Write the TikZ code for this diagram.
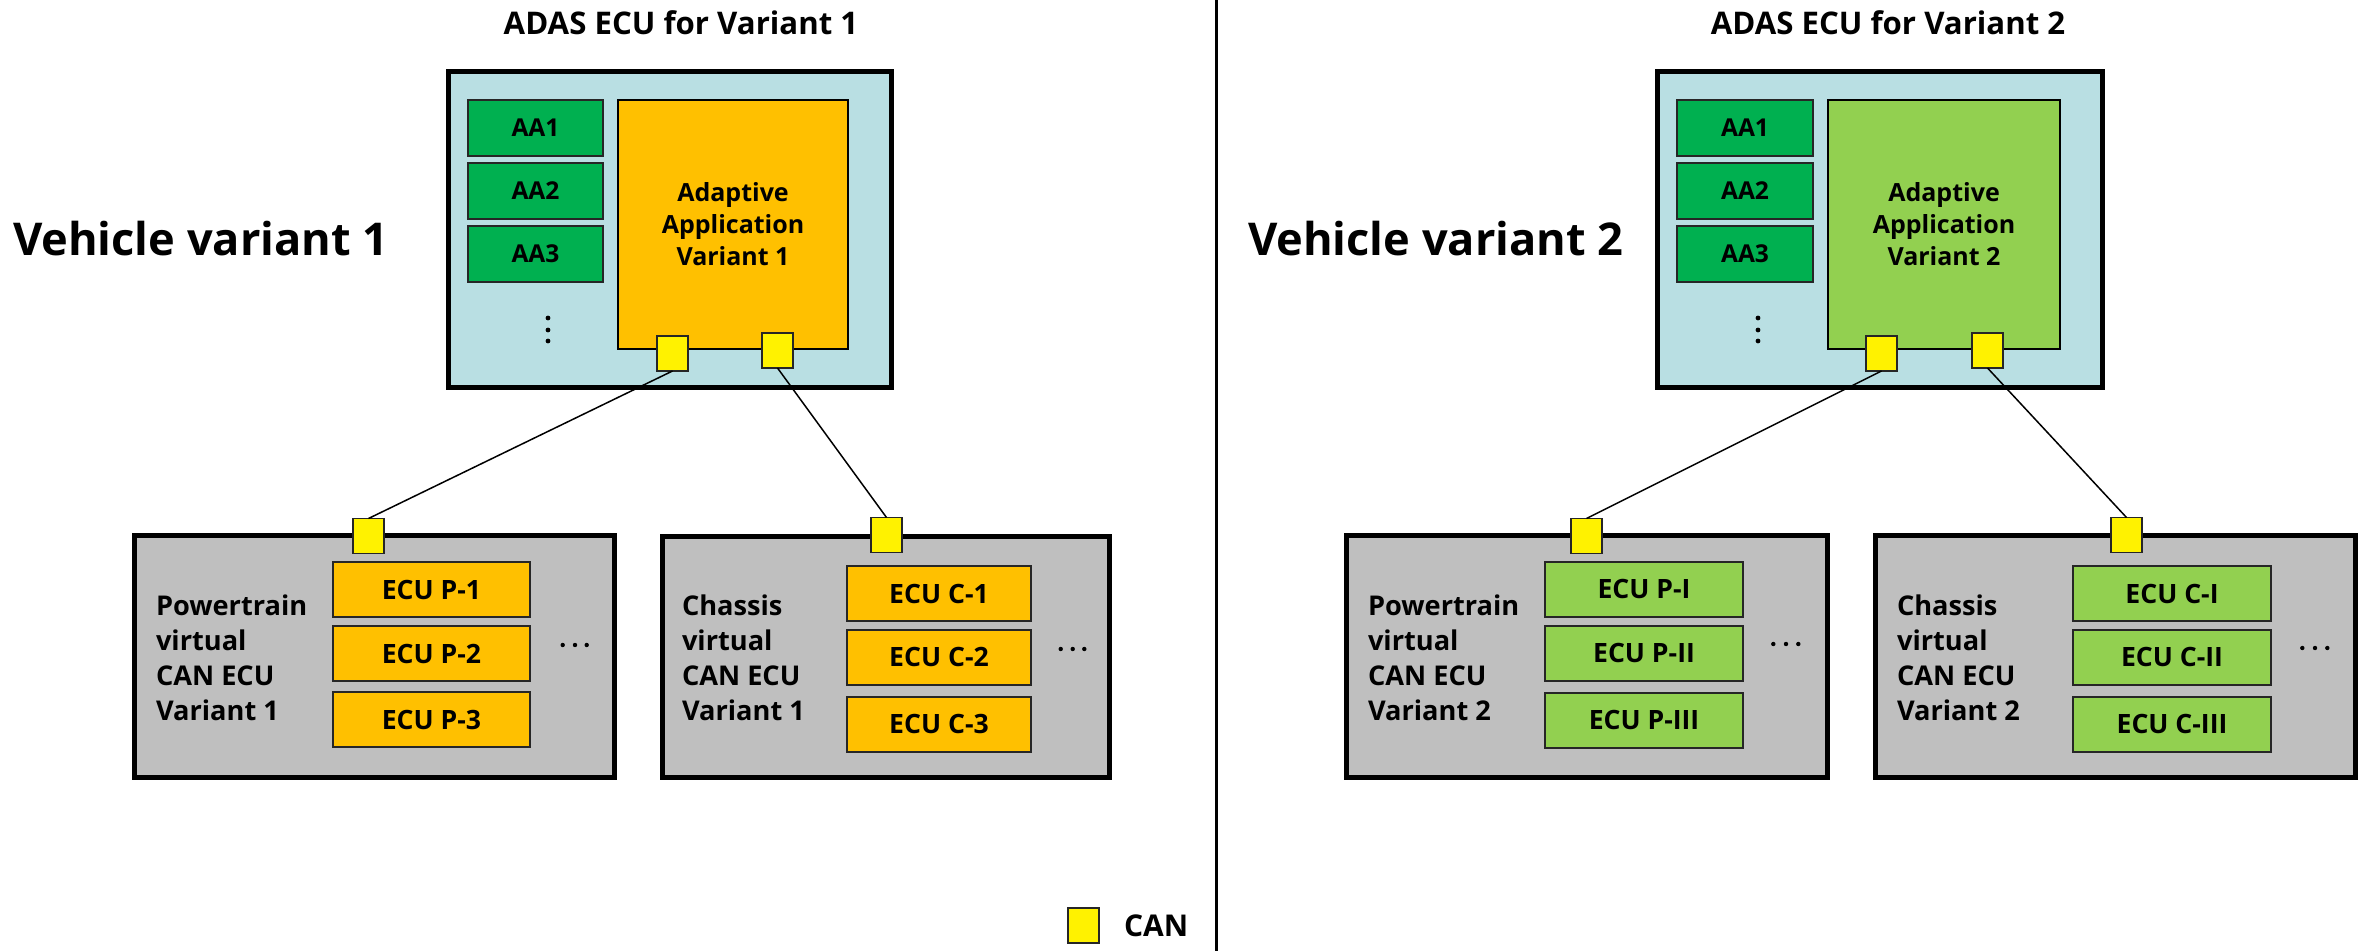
\documentclass[tikz,border=0pt]{standalone}
\usepackage{fontspec}
\setmainfont{Open Sans}
\begin{document}
\begin{tikzpicture}[x=0.5pt,y=-0.5pt,
  every node/.style={inner sep=0pt, outer sep=0pt, font=\bfseries},
  ecubox/.style={draw=black, line width=2.5pt, rectangle},
  adasbox/.style={ecubox, fill=adasblue},
  busbox/.style={ecubox, fill=busgray},
  aabox/.style={draw=black!85, line width=1pt, fill=aagreen, minimum width=67.5pt, minimum height=28pt, font=\bfseries\fontsize{12.3}{16}\selectfont},
  appbox/.style={draw=black, line width=1pt, align=center, font=\bfseries\fontsize{12.5}{16}\selectfont},
  subecu/.style={draw=black!85, line width=1pt, minimum height=27.5pt, font=\bfseries\fontsize{13.3}{17.5}\selectfont},
  canport/.style={draw=black!85, line width=0.8pt, fill=yellow, minimum width=15.5pt, minimum height=17.5pt},
  buslabel/.style={anchor=west, align=left, font=\bfseries\fontsize{13.6}{17.5}\selectfont},
  heading/.style={anchor=base, font=\bfseries\fontsize{15.6}{18}\selectfont},
  variant/.style={anchor=base west, font=\bfseries\fontsize{22.6}{28}\selectfont},
  link/.style={draw=black, line width=0.75pt},
  dot/.style={fill=black}
]
\definecolor{adasblue}{HTML}{B9DFE3}
\definecolor{aagreen}{HTML}{00B050}
\definecolor{apporange}{HTML}{FFC000}
\definecolor{applime}{HTML}{92D050}
\definecolor{busgray}{HTML}{BFBFBF}

\useasboundingbox (0,0) rectangle (2359,951);

% divider between the two vehicle variants
\coordinate (divtop) at (1216,0);
\coordinate (divbot) at (1216,951);
\draw[line width=1.5pt] (divtop) -- (divbot);

% ---------------- Vehicle variant 1 ----------------
\node[heading] (title1) at (681,35) {ADAS ECU for Variant 1};
\node[variant] (veh1) at (13,256) {Vehicle variant 1};

\node[adasbox, minimum width=221.5pt, minimum height=158pt] (adas1) at (669.5,230) {};
\node[aabox] (aa11) at (535.5,128) {AA1};
\node[aabox] (aa12) at (535.5,191) {AA2};
\node[aabox] (aa13) at (535.5,254) {AA3};
\foreach \yy in {318,330,341} \fill[dot] (548,\yy) circle (1.2pt);
\node[appbox, fill=apporange, minimum width=115pt, minimum height=124.5pt] (app1) at (733,224.5) {Adaptive\\Application\\Variant 1};
\node[canport] (can1a) at (672.5,353.5) {};
\node[canport] (can1b) at (777.5,350.5) {};

\node[busbox, minimum width=240pt, minimum height=121pt] (pt1) at (374,656) {};
\node[canport] (pt1can) at (368.5,536) {};
\node[subecu, fill=apporange, minimum width=98.5pt] (p11) at (431.5,589.5) {ECU P-1};
\node[subecu, fill=apporange, minimum width=98.5pt] (p12) at (431.5,653.5) {ECU P-2};
\node[subecu, fill=apporange, minimum width=98.5pt] (p13) at (431.5,719.5) {ECU P-3};
\node[buslabel] (pt1lbl) at (156,657.5) {Powertrain\\virtual\\CAN ECU\\Variant 1};
\foreach \xx in {562.7,575,586.7} \fill[dot] (\xx,645) circle (1.1pt);

\node[busbox, minimum width=223.5pt, minimum height=120.5pt] (ch1) at (885.5,656.5) {};
\node[canport] (ch1can) at (886.5,535) {};
\node[subecu, fill=apporange, minimum width=92pt] (c11) at (939,593.5) {ECU C-1};
\node[subecu, fill=apporange, minimum width=92pt] (c12) at (939,657) {ECU C-2};
\node[subecu, fill=apporange, minimum width=92pt] (c13) at (939,724) {ECU C-3};
\node[buslabel] (ch1lbl) at (682,657.5) {Chassis\\virtual\\CAN ECU\\Variant 1};
\foreach \xx in {1060.7,1072.7,1084.3} \fill[dot] (\xx,649) circle (1.1pt);

\draw[link] (can1a.south) -- (pt1can.north);
\draw[link] (can1b.south) -- (ch1can.north);

% ---------------- Vehicle variant 2 ----------------
\node[heading] (title2) at (1888,35) {ADAS ECU for Variant 2};
\node[variant] (veh2) at (1248,256) {Vehicle variant 2};

\node[adasbox, minimum width=222.5pt, minimum height=158pt] (adas2) at (1879.5,230) {};
\node[aabox, minimum width=68pt] (aa21) at (1745,128) {AA1};
\node[aabox, minimum width=68pt] (aa22) at (1745,191) {AA2};
\node[aabox, minimum width=68pt] (aa23) at (1745,254) {AA3};
\foreach \yy in {318,330,341} \fill[dot] (1758,\yy) circle (1.2pt);
\node[appbox, fill=applime, minimum width=116pt, minimum height=124.5pt] (app2) at (1944,224.5) {Adaptive\\Application\\Variant 2};
\node[canport] (can2a) at (1881.5,353.5) {};
\node[canport] (can2b) at (1987.5,350.5) {};

\node[busbox, minimum width=240.5pt, minimum height=121pt] (pt2) at (1586.5,656) {};
\node[canport] (pt2can) at (1586.5,536) {};
\node[subecu, fill=applime, minimum width=99pt] (p21) at (1644,589) {ECU P-I};
\node[subecu, fill=applime, minimum width=99pt] (p22) at (1644,653) {ECU P-II};
\node[subecu, fill=applime, minimum width=99pt] (p23) at (1644,720) {ECU P-III};
\node[buslabel] (pt2lbl) at (1368,657.5) {Powertrain\\virtual\\CAN ECU\\Variant 2};
\foreach \xx in {1773.3,1786,1798.3} \fill[dot] (\xx,644) circle (1.1pt);

\node[busbox, minimum width=240pt, minimum height=121pt] (ch2) at (2115,656) {};
\node[canport] (ch2can) at (2126.5,535) {};
\node[subecu, fill=applime, minimum width=99pt] (c21) at (2172,593.5) {ECU C-I};
\node[subecu, fill=applime, minimum width=99pt] (c22) at (2172,657) {ECU C-II};
\node[subecu, fill=applime, minimum width=99pt] (c23) at (2172,724) {ECU C-III};
\node[buslabel] (ch2lbl) at (1897,657.5) {Chassis\\virtual\\CAN ECU\\Variant 2};
\foreach \xx in {2302.3,2315,2327.3} \fill[dot] (\xx,648) circle (1.1pt);

\draw[link] (can2a.south) -- (pt2can.north);
\draw[link] (can2b.south) -- (ch2can.north);

% ---------------- legend ----------------
\node[canport] (legsq) at (1083.5,925.5) {};
\node[anchor=base west, font=\bfseries\fontsize{15}{18}\selectfont] (legtxt) at (1124,936) {CAN};
\end{tikzpicture}
\end{document}
